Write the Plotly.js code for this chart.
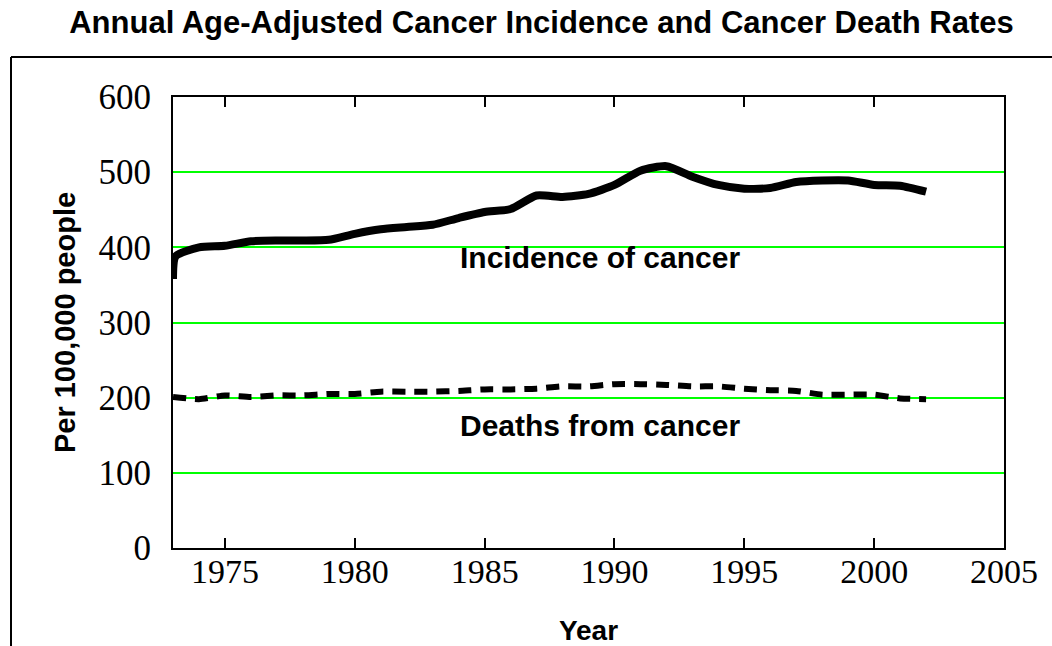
<!DOCTYPE html>
<html>
<head>
<meta charset="utf-8">
<script src="https://cdn.plot.ly/plotly-3.0.1.min.js"></script>
<style>
  html, body { margin: 0; padding: 0; background: #ffffff; }
  #chart { width: 1052px; height: 646px; }
</style>
</head>
<body>
<div id="chart"></div>
<script>
// ---- Data ----
const incidenceYears = [1973, 1973.1, 1974, 1975, 1976, 1977, 1978, 1979, 1980, 1981, 1982, 1983, 1984, 1985, 1986, 1987, 1988, 1989, 1990, 1991, 1992, 1993, 1994, 1995, 1996, 1997, 1998, 1999, 2000, 2001, 2002];
const incidenceRates = [358, 388, 400, 402, 408, 409, 409, 410, 418, 424, 427, 430, 439, 447, 451, 469, 467, 471, 483, 502, 508, 494, 483, 478, 479, 487, 489, 489, 483, 482, 474];

const deathYears = [1973, 1974, 1975, 1976, 1977, 1978, 1979, 1980, 1981, 1982, 1983, 1984, 1985, 1986, 1987, 1988, 1989, 1990, 1991, 1992, 1993, 1994, 1995, 1996, 1997, 1998, 1999, 2000, 2001, 2002];
const deathRates = [201, 198, 203, 201, 203, 203, 205, 205, 208, 208, 208, 209, 211, 211, 212, 215, 215, 218, 218, 217, 215, 215, 212, 210, 209, 204, 204, 204, 199, 198];

const xTickValues = [1975, 1980, 1985, 1990, 1995, 2000, 2005];
const yTickValues = [0, 100, 200, 300, 400, 500, 600];

const chartTitle = 'Annual Age-Adjusted Cancer Incidence and Cancer Death Rates';
const xTitle = 'Year';
const yTitle = 'Per 100,000 people';
const incidenceLabel = 'Incidence of cancer';
const deathLabel = 'Deaths from cancer';

// ---- Layout geometry ----
const W = 1052, H = 646;
const M = {l: 173, r: 48, t: 97, b: 98};
const pw = W - M.l - M.r, ph = H - M.t - M.b;
const px = (x) => (x - M.l) / pw;           // pixel -> paper x
const py = (y) => (H - M.b - y) / ph;       // pixel -> paper y

const sans = 'Arial, "Liberation Sans", sans-serif';
const serif = '"Times New Roman", "Liberation Serif", serif';

const traces = [
  {
    x: incidenceYears, y: incidenceRates,
    type: 'scatter', mode: 'lines',
    line: {color: '#000000', width: 8, shape: 'spline', smoothing: 0.6},
    hoverinfo: 'x+y', showlegend: false
  },
  {
    x: deathYears, y: deathRates,
    type: 'scatter', mode: 'lines',
    line: {color: '#000000', width: 6, dash: '13px,9px', shape: 'spline', smoothing: 0.6},
    hoverinfo: 'x+y', showlegend: false
  }
];

const layout = {
  width: W, height: H,
  margin: M,
  paper_bgcolor: '#ffffff',
  plot_bgcolor: '#ffffff',
  showlegend: false,
  title: {
    text: '<b>' + chartTitle + '</b>',
    font: {family: sans, size: 31, color: '#000000'},
    x: 541.5 / W, xref: 'container', xanchor: 'center',
    y: 1 - 22 / H, yref: 'container', yanchor: 'middle'
  },
  xaxis: {
    range: [1973, 2005],
    tickvals: xTickValues,
    ticktext: xTickValues.map(String),
    ticks: 'inside', ticklen: 10, tickwidth: 2, tickcolor: '#000000',
    showline: true, linecolor: '#000000', linewidth: 2, mirror: 'ticks',
    showgrid: false, zeroline: false,
    tickfont: {family: serif, size: 34, color: '#000000'},
    ticklabelstandoff: -8,
    title: {text: '<b>' + xTitle + '</b>', font: {family: sans, size: 28, color: '#000000'}, standoff: 32},
    automargin: false
  },
  yaxis: {
    range: [0, 600],
    tickvals: yTickValues,
    ticktext: yTickValues.map(String),
    ticks: '',
    showline: true, linecolor: '#000000', linewidth: 2, mirror: true,
    showgrid: true, gridcolor: '#00ff00', gridwidth: 2,
    zeroline: false,
    tickfont: {family: serif, size: 35, color: '#000000'},
    ticklabelstandoff: 13,
    title: {text: '<b>' + yTitle + '</b>', font: {family: sans, size: 29, color: '#000000'}, standoff: 14},
    automargin: false
  },
  annotations: [
    {
      text: '<b>' + incidenceLabel + '</b>',
      x: 1983.96, y: 387, xref: 'x', yref: 'y',
      xanchor: 'left', yanchor: 'middle', showarrow: false,
      font: {family: sans, size: 30, color: '#000000'}
    },
    {
      text: '<b>' + deathLabel + '</b>',
      x: 1983.96, y: 163.6, xref: 'x', yref: 'y',
      xanchor: 'left', yanchor: 'middle', showarrow: false,
      font: {family: sans, size: 30, color: '#000000'}
    }
  ],
  shapes: [
    // outer frame (left and top edges visible)
    {type: 'line', xref: 'paper', yref: 'paper', x0: px(11), y0: py(57), x1: px(11), y1: py(H + 10), line: {color: '#000000', width: 2}},
    {type: 'line', xref: 'paper', yref: 'paper', x0: px(11), y0: py(57), x1: px(W + 10), y1: py(57), line: {color: '#000000', width: 2}}
  ]
};

Plotly.newPlot('chart', traces, layout, {displayModeBar: false, staticPlot: true});
</script>
</body>
</html>
